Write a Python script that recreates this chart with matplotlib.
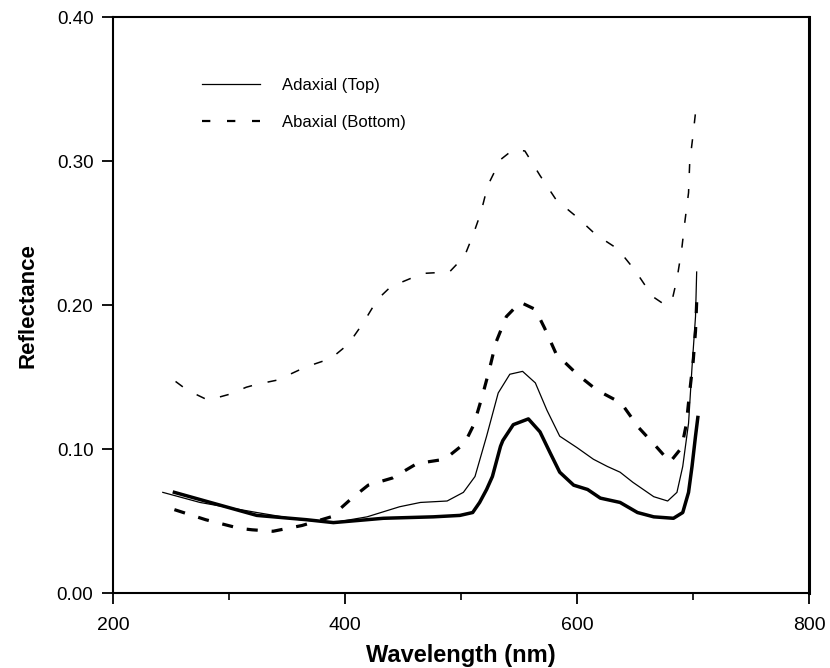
import matplotlib
matplotlib.use('Agg')
import matplotlib.pyplot as plt
from matplotlib.lines import Line2D
from matplotlib.ticker import MultipleLocator, FormatStrFormatter

plt.rcParams['font.family'] = ['Liberation Sans', 'DejaVu Sans']
plt.rcParams['lines.scale_dashes'] = False

# adaxial surface, thin trace
adaxial_1_nm = [243, 275, 324, 361, 390, 419, 447, 465, 488, 502, 512, 522, 532,
                542, 553, 564, 574, 585, 600, 614, 626, 637, 648, 666, 678, 686,
                691, 696, 699, 702, 703]
adaxial_1_r = [0.070, 0.063, 0.056, 0.051, 0.049, 0.053, 0.060, 0.063, 0.064,
               0.070, 0.081, 0.109, 0.139, 0.152, 0.154, 0.146, 0.127, 0.109,
               0.101, 0.093, 0.088, 0.084, 0.077, 0.067, 0.064, 0.070, 0.088,
               0.118, 0.157, 0.192, 0.223]

# adaxial surface, heavy trace
adaxial_2_nm = [253, 284, 324, 367, 390, 433, 476, 499, 510, 516, 522, 527, 534,
                536, 545, 558, 568, 577, 585, 597, 609, 620, 637, 652, 666, 683,
                691, 696, 699, 702, 704]
adaxial_2_r = [0.070, 0.063, 0.054, 0.051, 0.049, 0.052, 0.053, 0.054, 0.056,
               0.063, 0.072, 0.081, 0.102, 0.106, 0.117, 0.121, 0.112, 0.097,
               0.084, 0.075, 0.072, 0.066, 0.063, 0.056, 0.053, 0.052, 0.056,
               0.070, 0.088, 0.109, 0.122]

# abaxial surface, thin trace
abaxial_1_nm = [254, 264, 282, 300, 315, 324, 342, 366, 388, 403, 416, 428, 441,
                449, 467, 490, 503, 510, 517, 523, 534, 545, 555, 568, 582, 600,
                616, 635, 650, 665, 676, 682, 686, 690, 693, 696, 697, 700, 703]
abaxial_1_r = [0.147, 0.141, 0.134, 0.138, 0.143, 0.145, 0.148, 0.157, 0.163,
               0.173, 0.188, 0.204, 0.214, 0.216, 0.222, 0.223, 0.234, 0.248,
               0.264, 0.283, 0.301, 0.308, 0.307, 0.290, 0.273, 0.261, 0.249,
               0.239, 0.224, 0.206, 0.200, 0.204, 0.218, 0.238, 0.259, 0.278,
               0.299, 0.319, 0.341]

# abaxial surface, heavy trace
abaxial_2_nm = [253, 280, 309, 320, 338, 363, 388, 406, 420, 441, 462, 486, 503,
                511, 518, 524, 530, 539, 551, 564, 572, 582, 600, 617, 638, 653,
                669, 680, 690, 694, 697, 700, 702, 703]
abaxial_2_r = [0.058, 0.051, 0.045, 0.044, 0.043, 0.047, 0.053, 0.066, 0.075,
               0.080, 0.090, 0.093, 0.104, 0.117, 0.136, 0.154, 0.174, 0.192,
               0.202, 0.197, 0.184, 0.166, 0.152, 0.141, 0.132, 0.115, 0.101,
               0.091, 0.101, 0.117, 0.140, 0.161, 0.182, 0.202]

x_ticks = [200, 400, 600, 800]
y_ticks = [0.0, 0.1, 0.2, 0.3, 0.4]
legend_labels = ['Adaxial (Top)', 'Abaxial (Bottom)']

fig = plt.figure(figsize=(8.3, 6.68), dpi=100)
ax = fig.add_axes([0.136, 0.112, 0.839, 0.8625])

ax.plot(adaxial_1_nm, adaxial_1_r, color='black', lw=0.9)
ax.plot(adaxial_2_nm, adaxial_2_r, color='black', lw=2.5)
ax.plot(abaxial_1_nm, abaxial_1_r, color='black', lw=1.1, dashes=(6.5, 11.5))
ax.plot(abaxial_2_nm, abaxial_2_r, color='black', lw=2.3, dashes=(8, 10))

ax.set_xlim(200, 800)
ax.set_ylim(0, 0.4)
ax.set_xticks(x_ticks)
ax.set_yticks(y_ticks)
ax.xaxis.set_minor_locator(MultipleLocator(100))
ax.yaxis.set_major_formatter(FormatStrFormatter('%.2f'))

ax.tick_params(axis='both', which='major', direction='out', length=8,
               width=1.3, pad=6, labelsize=14)
ax.tick_params(axis='x', pad=9)
ax.tick_params(axis='y', labelsize=13.5)
ax.tick_params(axis='x', which='minor', direction='out', length=5, width=1.2)

for side in ['left', 'bottom', 'top']:
    ax.spines[side].set_linewidth(1.5)
ax.spines['right'].set_linewidth(2.2)

ax.set_xlabel('Wavelength (nm)', fontsize=17, fontweight='bold', labelpad=7)
ax.set_ylabel('Reflectance', fontsize=16, fontweight='bold', labelpad=13)

handles = [
    Line2D([], [], color='black', lw=0.9),
    Line2D([], [], color='black', lw=1.6, dashes=(6, 12)),
]
ax.legend(handles, legend_labels, loc='upper left', bbox_to_anchor=(0.106, 0.92),
          frameon=False, fontsize=12, handlelength=3.5, handletextpad=1.3,
          labelspacing=1.3)

fig.savefig('out.png', dpi=100)
